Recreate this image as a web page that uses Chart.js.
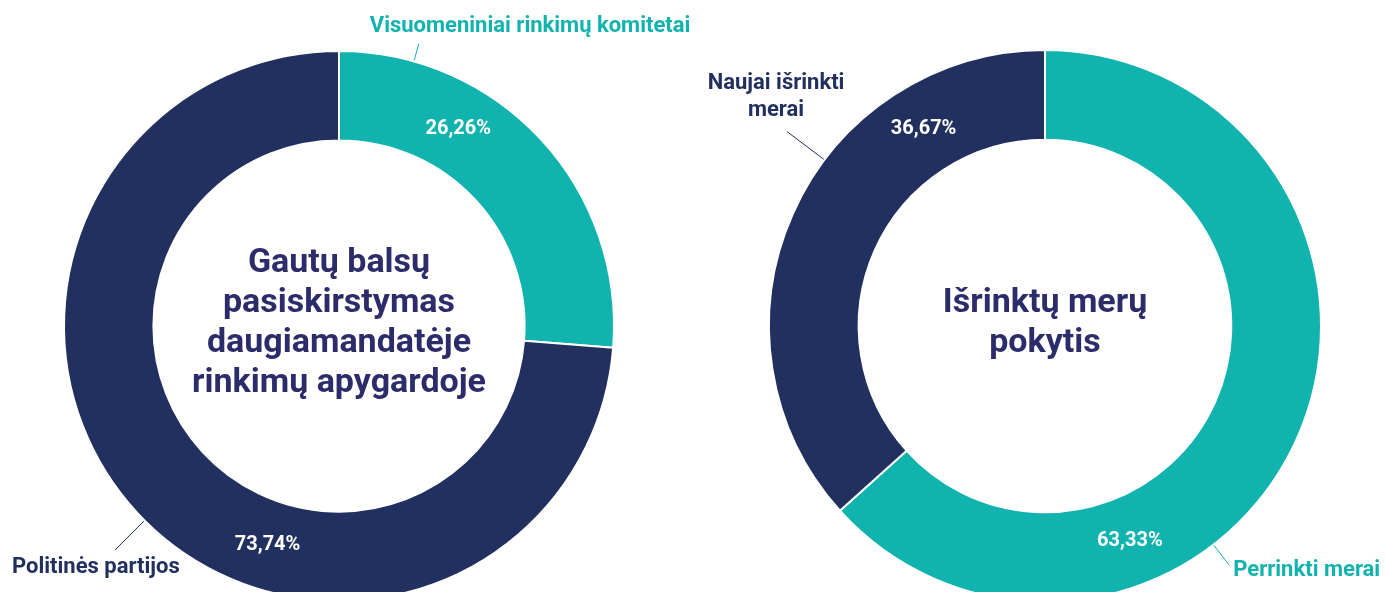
<!DOCTYPE html>
<html>
<head>
<meta charset="utf-8">
<script src="https://cdn.jsdelivr.net/npm/chart.js@4.4.1/dist/chart.umd.min.js"></script>
<style>
  html, body { margin: 0; padding: 0; background: #fff; overflow: hidden; width: 1386px; height: 592px; }
  .chart-box { position: absolute; top: 0; height: 620px; }
</style>
</head>
<body>
<div class="chart-box" style="left:0;width:700px"><canvas id="votes"></canvas></div>
<div class="chart-box" style="left:693px;width:693px"><canvas id="mayors"></canvas></div>
<script>
// data
const voteLabels = ['Visuomeniniai rinkimų komitetai', 'Politinės partijos'];
const voteShares = [26.26, 73.74];
const voteTitle = ['Gautų balsų', 'pasiskirstymas', 'daugiamandatėje', 'rinkimų apygardoje'];

const mayorLabels = ['Perrinkti merai', ['Naujai išrinkti', 'merai']];
const mayorShares = [63.33, 36.67];
const mayorTitle = ['Išrinktų merų', 'pokytis'];

const TEAL = '#10b3ae';
const NAVY = '#21305e';
const TITLE = '#2c2c6b';
const FONT = 'Roboto, "Noto Sans", sans-serif';

const fmt = v => v.toFixed(2).replace('.', ',') + '%';

// draws the % inside each arc, the callout labels with leader lines and the centre title
const donutText = {
  id: 'donutText',
  afterDatasetsDraw(chart, args, opts) {
    const { ctx } = chart;
    const meta = chart.getDatasetMeta(0);
    const ds = chart.data.datasets[0];
    ctx.save();
    meta.data.forEach((arc, i) => {
      const { x, y, startAngle, endAngle, innerRadius, outerRadius } =
        arc.getProps(['x', 'y', 'startAngle', 'endAngle', 'innerRadius', 'outerRadius'], true);

      // value inside the ring
      const a = startAngle + (endAngle - startAngle) * opts.valueAt[i];
      const r = (innerRadius + outerRadius) / 2;
      ctx.fillStyle = '#fff';
      ctx.font = `bold 20px ${FONT}`;
      ctx.textAlign = 'center';
      ctx.textBaseline = 'middle';
      ctx.fillText(fmt(ds.data[i]), x + Math.cos(a) * r, y + Math.sin(a) * r);

      // callout
      const c = opts.callouts[i];
      const ca = c.angle * Math.PI / 180 - Math.PI / 2;
      const r0 = outerRadius + 1;
      const r1 = outerRadius + c.len;
      const ex = x + Math.cos(ca) * r1;
      const ey = y + Math.sin(ca) * r1;
      const colour = ds.backgroundColor[i];
      ctx.strokeStyle = colour;
      ctx.lineWidth = 1;
      ctx.beginPath();
      ctx.moveTo(x + Math.cos(ca) * r0, y + Math.sin(ca) * r0);
      ctx.lineTo(ex, ey);
      ctx.stroke();

      const lines = [].concat(chart.data.labels[i]);
      ctx.fillStyle = colour;
      ctx.font = `bold 22px ${FONT}`;
      ctx.textAlign = c.align;
      lines.forEach((line, k) => ctx.fillText(line, ex + c.dx, ey + c.dy + k * 27));
    });

    // centre title
    const cx = (chart.chartArea.left + chart.chartArea.right) / 2;
    const cy = (chart.chartArea.top + chart.chartArea.bottom) / 2;
    const lh = 40;
    ctx.fillStyle = TITLE;
    ctx.font = `bold 34px ${FONT}`;
    ctx.textAlign = 'center';
    ctx.textBaseline = 'middle';
    const top = cy - 3 - (opts.title.length - 1) * lh / 2;
    opts.title.forEach((line, k) => ctx.fillText(line, cx, top + k * lh));
    ctx.restore();
  },
};

const makeDonut = (id, labels, values, padding, text) => new Chart(document.getElementById(id), {
  type: 'doughnut',
  data: {
    labels,
    datasets: [{
      data: values,
      backgroundColor: [TEAL, NAVY],
      borderColor: '#fff',
      borderWidth: 2,
      hoverOffset: 0,
    }],
  },
  options: {
    responsive: true,
    maintainAspectRatio: false,
    animation: false,
    cutout: '67.5%',
    layout: { padding },
    events: [],
    plugins: {
      legend: { display: false },
      tooltip: { enabled: false },
      donutText: text,
    },
  },
  plugins: [donutText],
});

makeDonut('votes', voteLabels, voteShares,
  { top: 50, left: 63, right: 85, bottom: 18 },
  {
    title: voteTitle,
    valueAt: [0.33, 0.39],
    callouts: [
      { angle: 15.8, len: 18, align: 'left', dx: -49, dy: -18 },
      { angle: 225, len: 42, align: 'center', dx: -19, dy: 17 },
    ],
  });

makeDonut('mayors', mayorLabels, mayorShares,
  { top: 49, left: 75, right: 64, bottom: 17 },
  {
    title: mayorTitle,
    valueAt: [0.695, 0.76],
    callouts: [
      { angle: 142.4, len: 26, align: 'left', dx: 4, dy: 5 },
      { angle: 307, len: 47, align: 'center', dx: -11, dy: -48 },
    ],
  });
</script>
</body>
</html>
